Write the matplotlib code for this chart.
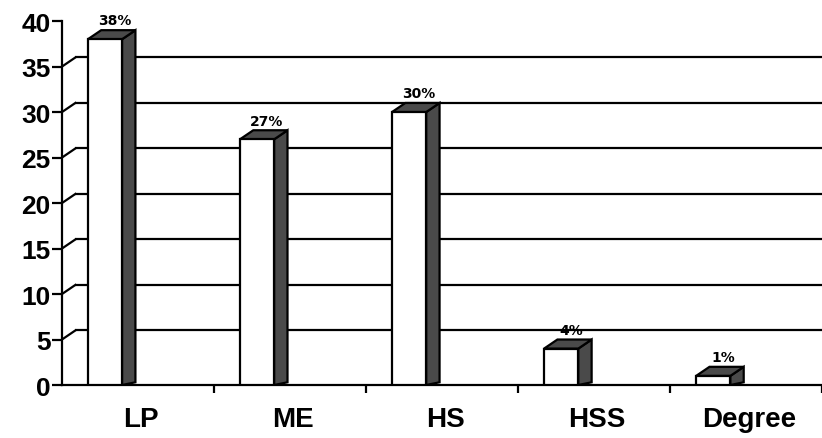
"""
Pseudo-3D bar chart of share by qualification level (LP, ME, HS, HSS, Degree).
"""

import matplotlib
matplotlib.use('Agg')
import matplotlib.pyplot as plt
from matplotlib.patches import Polygon, Rectangle

# Data
categories = ['LP', 'ME', 'HS', 'HSS', 'Degree']
values = [38, 27, 30, 4, 1]
value_labels = ['38%', '27%', '30%', '4%', '1%']
y_ticks = [0, 5, 10, 15, 20, 25, 30, 35, 40]
grid_levels = [5, 10, 15, 20, 25, 30, 35]

# depth of the fake 3D effect (x in category units, y in value units)
DX = 0.088
DY = 1.0
BAR_LEFT = 0.17
BAR_WIDTH = 0.225
LW = 1.6
DARK = '#4a4a4a'

fig = plt.figure(figsize=(8.22, 4.39), dpi=100)
ax = fig.add_axes([0.0754, 0.1207, 0.925, 0.829])
ax.set_xlim(0, 5)
ax.set_ylim(0, 40)

# back wall gridlines plus the little slanted depth ticks on the axis
for level in grid_levels:
    ax.plot([DX, 5], [level + DY, level + DY], color='black', lw=LW, zorder=1,
            solid_capstyle='butt')
    ax.plot([0, DX], [level, level + DY], color='black', lw=LW, zorder=1)

# bars
for i, (val, lab) in enumerate(zip(values, value_labels)):
    x0 = i + BAR_LEFT
    x1 = x0 + BAR_WIDTH
    side = Polygon([(x1, 0), (x1 + DX, DY * 0.3), (x1 + DX, val + DY), (x1, val)],
                   closed=True, facecolor=DARK, edgecolor='black', lw=LW, zorder=3)
    top = Polygon([(x0, val), (x1, val), (x1 + DX, val + DY), (x0 + DX, val + DY)],
                  closed=True, facecolor=DARK, edgecolor='black', lw=LW, zorder=3)
    front = Rectangle((x0, 0), BAR_WIDTH, val, facecolor='white',
                      edgecolor='black', lw=LW, zorder=4)
    ax.add_patch(side)
    ax.add_patch(top)
    ax.add_patch(front)
    ax.text(x0 + (BAR_WIDTH + DX) / 2 + 0.02, val + DY + 0.3, lab,
            ha='center', va='bottom', fontsize=10, fontweight='bold',
            family='DejaVu Sans', zorder=5)

# axes styling
for side_name in ['top', 'right']:
    ax.spines[side_name].set_visible(False)
ax.spines['left'].set_linewidth(LW)
ax.spines['bottom'].set_linewidth(LW)
ax.spines['left'].set_bounds(0, 40)

ax.set_yticks(y_ticks)
ax.set_yticklabels([str(t) for t in y_ticks])
ax.tick_params(axis='y', direction='out', length=7, width=LW, pad=1,
               labelsize=19)

ax.set_xticks([i + 0.52 for i in range(len(categories))])
ax.set_xticklabels(categories)
ax.tick_params(axis='x', which='major', length=0, pad=15, labelsize=20)
ax.set_xticks([1, 2, 3, 4, 5], minor=True)
ax.tick_params(axis='x', which='minor', direction='out', length=6, width=LW)

for lbl in ax.get_xticklabels() + ax.get_yticklabels():
    lbl.set_fontweight('bold')
    lbl.set_family('Liberation Sans')

fig.savefig('out.png', dpi=100)
